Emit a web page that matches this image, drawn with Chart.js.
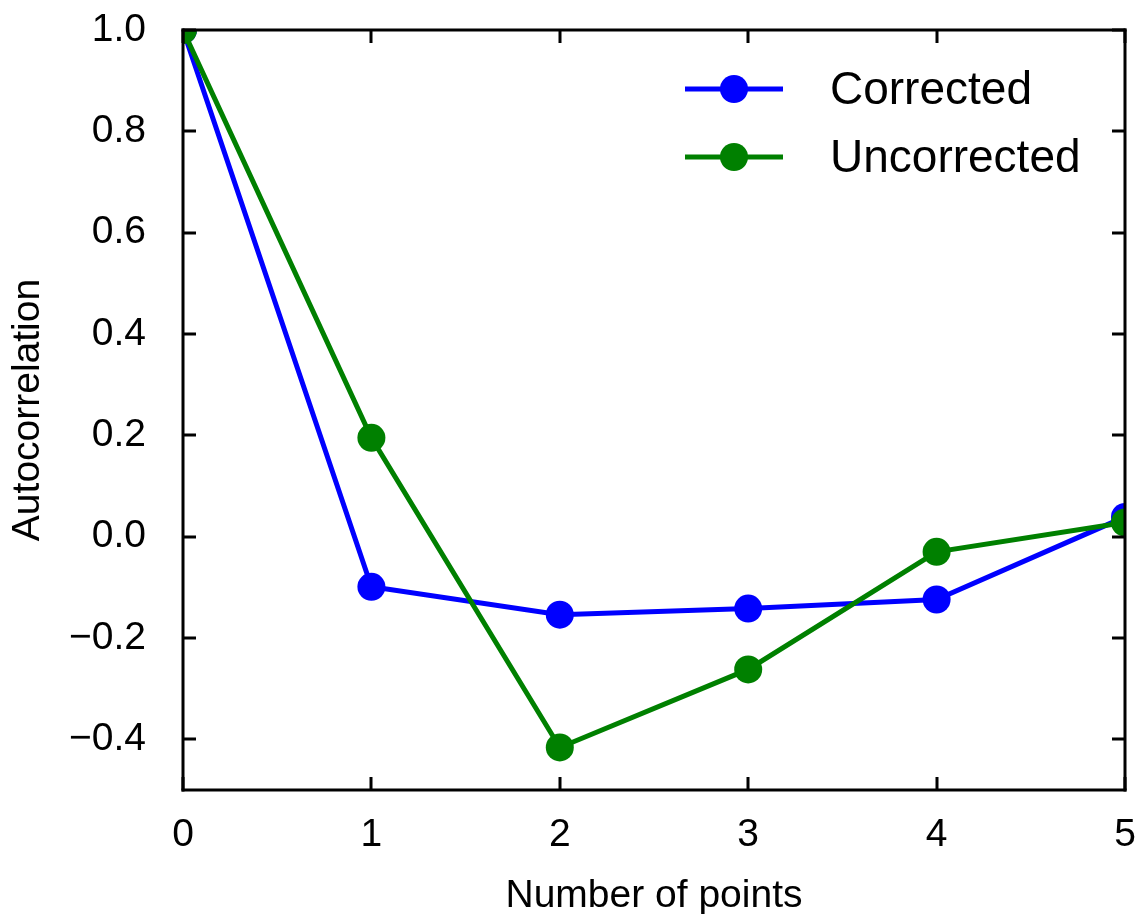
<!DOCTYPE html>
<html>
<head>
<meta charset="utf-8">
<script src="https://cdn.jsdelivr.net/npm/chart.js@4.4.0/dist/chart.umd.min.js"></script>
<style>
  html, body { margin: 0; padding: 0; background: #fff; }
  #wrap { width: 1143px; height: 914px; }
</style>
</head>
<body>
<div id="wrap"><canvas id="chart" width="1143" height="914"></canvas></div>
<script>
// data
const lags = [0, 1, 2, 3, 4, 5];
const corrected = [1.0, -0.099, -0.154, -0.142, -0.124, 0.039];
const uncorrected = [1.0, 0.195, -0.416, -0.262, -0.030, 0.028];
const yTicks = [-0.4, -0.2, 0.0, 0.2, 0.4, 0.6, 0.8, 1.0];
const xTicks = [0, 1, 2, 3, 4, 5];

const FONT = 'Liberation Sans, Arial, Helvetica, sans-serif';

function pts(ys) {
  return lags.map((x, i) => ({ x, y: ys[i] }));
}

// frame + inward ticks on all four sides, legend top right
const framePlugin = {
  id: 'frame',
  afterDraw(chart) {
    const { ctx, chartArea: a, scales } = chart;
    const L = a.left, R = a.right, T = a.top, B = a.bottom;
    const tl = 13, tw = 3, fw = 3;
    ctx.save();
    ctx.fillStyle = '#000';
    // frame
    ctx.fillRect(L - fw / 2, T - fw / 2, R - L + fw, fw);
    ctx.fillRect(L - fw / 2, B - fw / 2, R - L + fw, fw);
    ctx.fillRect(L - fw / 2, T - fw / 2, fw, B - T + fw);
    ctx.fillRect(R - fw / 2, T - fw / 2, fw, B - T + fw);
    // ticks
    xTicks.forEach(v => {
      const px = Math.round(scales.x.getPixelForValue(v));
      ctx.fillRect(px - tw / 2, B - tl, tw, tl);
      ctx.fillRect(px - tw / 2, T, tw, tl);
    });
    yTicks.forEach(v => {
      const py = Math.round(scales.y.getPixelForValue(v));
      ctx.fillRect(L, py - tw / 2, tl, tw);
      ctx.fillRect(R - tl, py - tw / 2, tl, tw);
    });

    // legend
    const items = chart.data.datasets.slice().sort((p, q) => q.order - p.order);
    items.forEach((ds, i) => {
      const y = 89 + i * 68;
      ctx.fillStyle = ds.borderColor;
      ctx.fillRect(685, y - 2.5, 98, 5);
      ctx.beginPath();
      ctx.arc(734, y, 14, 0, Math.PI * 2);
      ctx.fill();
      ctx.fillStyle = '#000';
      ctx.font = '46px ' + FONT;
      ctx.textBaseline = 'middle';
      ctx.textAlign = 'left';
      ctx.fillText(ds.label, 830, y + 2);
    });
    ctx.restore();
  }
};

new Chart(document.getElementById('chart'), {
  type: 'line',
  data: {
    datasets: [
      {
        label: 'Corrected', data: pts(corrected), order: 1,
        borderColor: '#0000ff', backgroundColor: '#0000ff',
        borderWidth: 5, pointRadius: 14, pointBorderWidth: 0, clip: 0
      },
      {
        label: 'Uncorrected', data: pts(uncorrected), order: 0,
        borderColor: '#008000', backgroundColor: '#008000',
        borderWidth: 5, pointRadius: 14, pointBorderWidth: 0, clip: 0
      }
    ]
  },
  options: {
    responsive: false,
    animation: false,
    events: [],
    layout: { padding: { top: 30, right: 18, left: 0, bottom: 0 } },
    plugins: { legend: { display: false }, tooltip: { enabled: false } },
    scales: {
      x: {
        type: 'linear', min: 0, max: 5,
        grid: { display: false }, border: { display: false },
        afterBuildTicks: s => { s.ticks = xTicks.map(v => ({ value: v })); },
        afterFit: s => { s.height = 124; s.paddingLeft = 0; s.paddingRight = 0; },
        ticks: { color: '#000', font: { family: FONT, size: 39 }, padding: 14, maxRotation: 0 },
        title: {
          display: true, text: 'Number of points', color: '#000',
          font: { family: FONT, size: 39, lineHeight: 1.0 }, padding: { top: 0, bottom: -2 }
        }
      },
      y: {
        type: 'linear', min: -0.5, max: 1.0,
        grid: { display: false }, border: { display: false },
        afterBuildTicks: s => { s.ticks = yTicks.map(v => ({ value: v })); },
        afterFit: s => { s.width = 183; s.paddingTop = 0; s.paddingBottom = 0; },
        ticks: {
          color: '#000', font: { family: FONT, size: 39 }, padding: 29,
          callback: v => v.toFixed(1).replace('-', '\u2212')
        },
        title: {
          display: true, text: 'Autocorrelation', color: '#000',
          font: { family: FONT, size: 39 }, padding: { top: 5, bottom: 0 }
        }
      }
    }
  },
  plugins: [framePlugin]
});
</script>
</body>
</html>
